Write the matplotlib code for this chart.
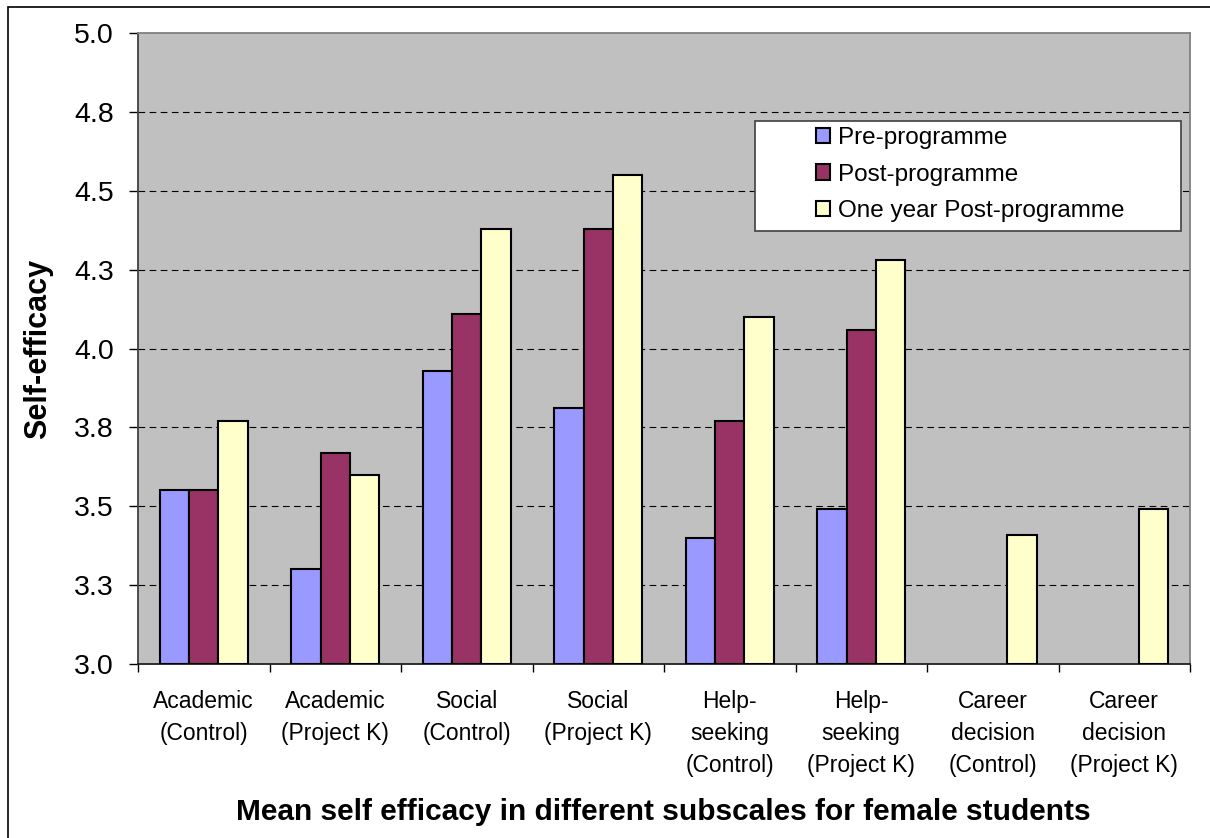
import matplotlib
matplotlib.use("Agg")
import matplotlib.pyplot as plt
import numpy as np
from matplotlib.patches import Rectangle

plt.rcParams['font.family'] = ['Liberation Sans', 'DejaVu Sans']

categories = ["Academic\n(Control)", "Academic\n(Project K)", "Social\n(Control)",
              "Social\n(Project K)", "Help-\nseeking\n(Control)", "Help-\nseeking\n(Project K)",
              "Career\ndecision\n(Control)", "Career\ndecision\n(Project K)"]
series_names = ["Pre-programme", "Post-programme", "One year Post-programme"]
pre_programme = [3.55, 3.30, 3.93, 3.81, 3.40, 3.49, np.nan, np.nan]
post_programme = [3.55, 3.67, 4.11, 4.38, 3.77, 4.06, np.nan, np.nan]
one_year_post = [3.77, 3.60, 4.38, 4.55, 4.10, 4.28, 3.41, 3.49]
y_ticks = [3.0, 3.25, 3.5, 3.75, 4.0, 4.25, 4.5, 4.75, 5.0]
y_tick_labels = ["3.0", "3.3", "3.5", "3.8", "4.0", "4.3", "4.5", "4.8", "5.0"]
colors = ["#9999FF", "#993366", "#FFFFCC"]

W, H = 1210, 838
AX_L, AX_R, AX_T, AX_B = 138, 1190, 33, 664

fig = plt.figure(figsize=(W / 100, H / 100), dpi=100)
ax = fig.add_axes([AX_L / W, 1 - AX_B / H, (AX_R - AX_L) / W, (AX_B - AX_T) / H])
ax.set_facecolor("#C0C0C0")


def px_to_axes(px, py):
    return (px - AX_L) / (AX_R - AX_L), (AX_B - py) / (AX_B - AX_T)


# outer chart frame
fig.patches.append(Rectangle((8 / W, -0.1), 1.2, (H - 7) / H + 0.1,
                             transform=fig.transFigure, fill=False,
                             edgecolor="black", linewidth=1.2, zorder=0))

x = np.arange(len(categories))
n = len(series_names)
bar_w = 1 / (n + 1.5)
for i, (vals, col, name) in enumerate(zip([pre_programme, post_programme, one_year_post],
                                          colors, series_names)):
    vals = np.array(vals, dtype=float)
    ax.bar(x + (i - 1) * bar_w, vals - 3.0, bar_w, bottom=3.0, color=col,
           edgecolor="black", linewidth=1.5, label=name, zorder=3)

ax.set_ylim(3.0, 5.0)
ax.set_xlim(-0.5, len(categories) - 0.5)
ax.set_yticks(y_ticks)
ax.set_yticklabels(y_tick_labels, fontsize=20.5)
ax.tick_params(axis="y", direction="out", length=6.5, width=1, pad=11, colors="black")

ax.set_xticks(x)
ax.set_xticklabels(categories, fontsize=16.5, linespacing=1.5, va="top")
ax.tick_params(axis="x", which="major", length=0, pad=19)
ax.set_xticks(np.arange(len(categories) + 1) - 0.5, minor=True)
ax.tick_params(axis="x", which="minor", direction="out", length=6, width=1)

for yv in y_ticks[1:-1]:
    ax.axhline(yv, color="black", linestyle=(0, (6, 4)), linewidth=0.8, zorder=1)

ax.spines["left"].set_color("#404040")
ax.spines["bottom"].set_color("#202020")
ax.spines["top"].set_color("#808080")
ax.spines["right"].set_color("#808080")
for s in ax.spines.values():
    s.set_linewidth(1.3)

ax.set_ylabel("Self-efficacy", fontsize=22, fontweight="bold")
ax.yaxis.set_label_coords(px_to_axes(53, 0)[0], 0.5)
fig.text(663 / W, 1 - 812 / H, "Mean self efficacy in different subscales for female students",
         fontsize=21.5, fontweight="bold", ha="center", va="center")

# legend box
bx0, by0 = px_to_axes(755, 231)
bx1, by1 = px_to_axes(1181, 121)
ax.add_patch(Rectangle((bx0, by0), bx1 - bx0, by1 - by0, transform=ax.transAxes,
                       facecolor="white", edgecolor="#404040", linewidth=1.2, zorder=5))
lx, ly = px_to_axes(816, 127)
leg = ax.legend(loc="upper left", bbox_to_anchor=(lx, ly), fontsize=17.5, frameon=False,
                handlelength=0.58, handleheight=0.58, handletextpad=0.33,
                labelspacing=0.6, borderpad=0, borderaxespad=0)
for h in leg.legend_handles:
    h.set_linewidth(1.5)
leg.set_zorder(6)

fig.savefig("out.png", dpi=100, facecolor="white")
